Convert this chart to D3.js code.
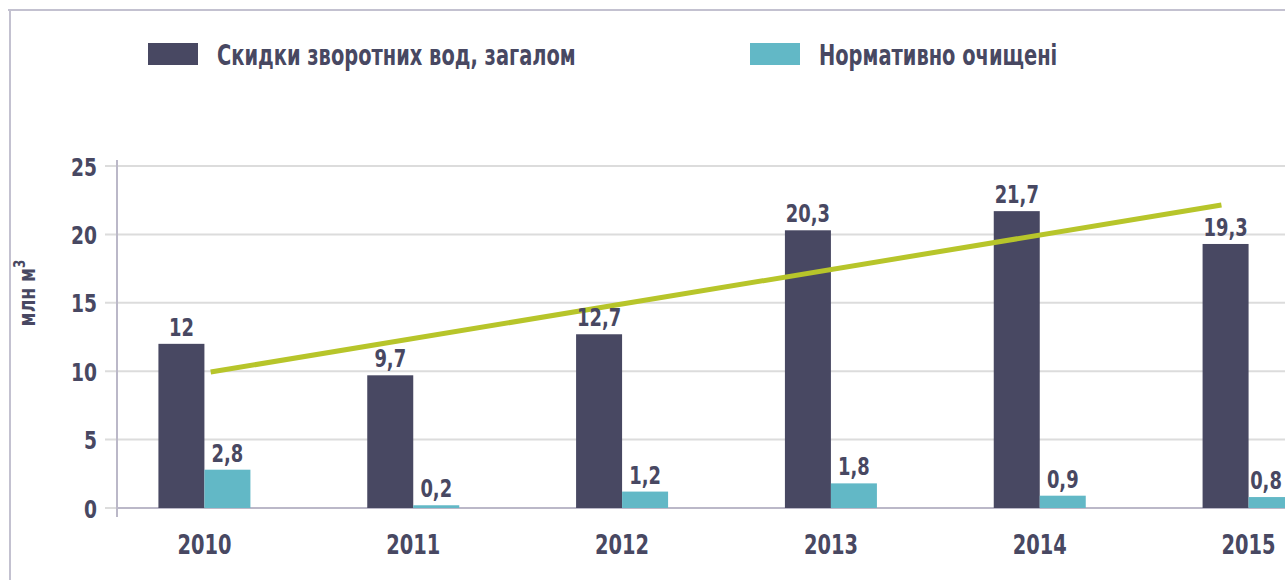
<!DOCTYPE html>
<html>
<head>
<meta charset="utf-8">
<script src="https://cdn.jsdelivr.net/npm/d3@7"></script>
<style>
  body { margin: 0; background: #fff; }
  svg text { font-family: "Liberation Sans Narrow", "DejaVu Sans Condensed", "Roboto", sans-serif; font-weight: bold; fill: #484862; }
</style>
</head>
<body>
<svg id="chart" width="1285" height="580"></svg>
<script>
// data
var years = ["2010", "2011", "2012", "2013", "2014", "2015"];
var totalDischarge = [12, 9.7, 12.7, 20.3, 21.7, 19.3];
var normTreated = [2.8, 0.2, 1.2, 1.8, 0.9, 0.8];
var yTicks = [0, 5, 10, 15, 20, 25];
var seriesNames = ["Скидки зворотних вод, загалом", "Нормативно очищені"];
// trend line ends (position in years from 2010, value)
var trendPos = [0.03, 4.87];
var trendVal = [9.94, 22.15];

var DARK = "#484862", TEAL = "#62b8c6", TREND = "#b7c52a";
var GRID = "#dcdcdc", AXIS = "#bbb8c8";
var NARROW = 0.83; // squeeze the condensed font to look like the narrow original

var svg = d3.select("#chart");
var W = 1285, H = 580;
var BAR_W = 46;

var x = d3.scaleBand().domain(years).range([100, 1353]).paddingInner(0);
var y = d3.scaleLinear().domain([0, 25]).range([508, 166]);
var xPos = d3.scaleLinear().domain([0, 1]).range([x(years[0]) + x.bandwidth() / 2, x(years[1]) + x.bandwidth() / 2]);

// move x/y into a transform so the text can be squeezed horizontally
function condense(sel, k){
  k = k || NARROW;
  sel.each(function(){
    var t = d3.select(this);
    var tx = +t.attr("x") || 0, ty = +t.attr("y") || 0;
    t.attr("x", 0).attr("y", 0)
      .attr("transform", "translate(" + tx + "," + ty + ") scale(" + k + ",1)");
  });
}

// frame
svg.append("line").attr("x1", 8).attr("x2", W).attr("y1", 10).attr("y2", 10)
  .attr("stroke", "#c3c1d0").attr("stroke-width", 2);
svg.append("line").attr("x1", 10).attr("x2", 10).attr("y1", 10).attr("y2", H)
  .attr("stroke", "#c3c1d0").attr("stroke-width", 2);

// legend
var legend = svg.append("g");
[[148, DARK], [750, TEAL]].forEach(function(d, i){
  legend.append("rect").attr("x", d[0]).attr("y", 43).attr("width", 50).attr("height", 22).attr("fill", d[1]);
  legend.append("text").attr("x", d[0] + 69).attr("y", 65).attr("font-size", 29).text(seriesNames[i]);
});
condense(legend.selectAll("text"), 0.745);

// grid
svg.append("g").selectAll("line").data(yTicks).enter().append("line")
  .attr("x1", 105).attr("x2", W)
  .attr("y1", function(d){ return y(d); }).attr("y2", function(d){ return y(d); })
  .attr("stroke", GRID).attr("stroke-width", 2);

// y axis
var yAxis = svg.append("g").attr("transform", "translate(117,0)")
  .call(d3.axisLeft(y).tickValues(yTicks).tickSize(0).tickPadding(20));
yAxis.select(".domain").remove();
yAxis.selectAll("text").attr("font-size", 25).attr("fill", DARK).attr("dy", "0.36em")
  .style("font-family", null).call(condense);
svg.append("line").attr("x1", 117).attr("x2", 117).attr("y1", 160).attr("y2", 517)
  .attr("stroke", AXIS).attr("stroke-width", 2);

// x axis
var xAxis = svg.append("g").attr("transform", "translate(0,508)")
  .call(d3.axisBottom(x).tickSize(0).tickPadding(28));
xAxis.select(".domain").remove();
xAxis.selectAll("text").attr("font-size", 26).attr("fill", DARK).style("font-family", null).call(condense);
svg.append("line").attr("x1", 117).attr("x2", W).attr("y1", 508).attr("y2", 508)
  .attr("stroke", AXIS).attr("stroke-width", 2);

// axis title
svg.append("text").attr("transform", "translate(35,293) rotate(-90) scale(" + NARROW + ",1)")
  .attr("text-anchor", "middle").attr("font-size", 23)
  .text("млн м").append("tspan").attr("font-size", 16).attr("dy", -10).text("3");

// bars
function cx(d, i){ return x(years[i]) + x.bandwidth() / 2; }
var bars = svg.append("g");
bars.selectAll("rect.total").data(totalDischarge).enter().append("rect")
  .attr("class", "total")
  .attr("x", function(d, i){ return cx(d, i) - BAR_W; })
  .attr("y", function(d){ return y(d); })
  .attr("width", BAR_W)
  .attr("height", function(d){ return y(0) - y(d); })
  .attr("fill", DARK);
bars.selectAll("rect.norm").data(normTreated).enter().append("rect")
  .attr("class", "norm")
  .attr("x", function(d, i){ return cx(d, i); })
  .attr("y", function(d){ return y(d); })
  .attr("width", BAR_W)
  .attr("height", function(d){ return y(0) - y(d); })
  .attr("fill", TEAL);

// trend
var trend = d3.line()
  .x(function(d){ return xPos(d[0]); })
  .y(function(d){ return y(d[1]); });
svg.append("path").datum(d3.zip(trendPos, trendVal))
  .attr("d", trend).attr("fill", "none").attr("stroke", TREND).attr("stroke-width", 5);

// value labels
function fmt(v){ return String(v).replace(".", ","); }
var labels = svg.append("g").attr("text-anchor", "middle").attr("font-size", 24);
labels.selectAll("text.total").data(totalDischarge).enter().append("text")
  .attr("x", function(d, i){ return cx(d, i) - BAR_W / 2; })
  .attr("y", function(d){ return y(d) - 8; })
  .text(fmt);
labels.selectAll("text.norm").data(normTreated).enter().append("text")
  .attr("x", function(d, i){ return Math.min(cx(d, i) + BAR_W / 2, W - 19); })
  .attr("y", function(d){ return y(d) - 8; })
  .text(fmt);
condense(labels.selectAll("text"));
</script>
</body>
</html>
